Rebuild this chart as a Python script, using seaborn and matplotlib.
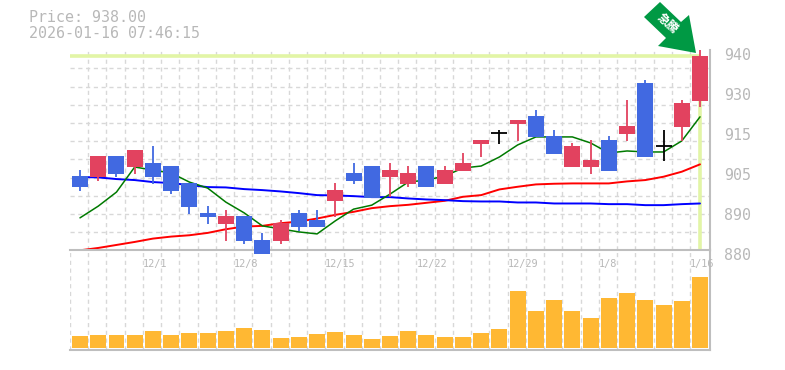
import numpy as np
import pandas as pd
import matplotlib
matplotlib.use("Agg")
import matplotlib.pyplot as plt
from matplotlib.patches import Polygon
from matplotlib.transforms import ScaledTranslation
import seaborn as sns

opens = [902.2,901.9,908.2,904.9,906.1,905.2,900.1,891.2,887.9,890.3,883.1,882.8,891.2,889.1,894.7,903.1,905.2,901.9,899.8,905.2,899.8,903.7,911.8,915.0,917.8,920.1,914.2,904.9,904.9,913.0,914.8,930.0,911.2,916.9,924.6]
closes = [899.0,908.2,902.8,910.0,901.9,897.7,892.9,890.0,890.3,882.8,878.9,888.2,887.0,887.0,898.0,900.7,895.6,904.0,903.1,898.9,904.0,906.1,913.0,915.0,919.0,913.9,908.8,911.2,907.0,903.7,917.2,907.9,911.2,924.0,938.1]
highs = [904.0,908.2,908.2,910.0,911.2,905.2,900.1,893.2,892.0,890.3,885.2,889.1,892.0,892.0,900.1,906.1,905.2,906.1,905.2,905.2,905.2,909.1,913.0,916.0,919.0,921.9,916.0,912.1,913.0,914.2,924.9,930.9,916.0,924.9,939.9]
lows = [897.7,900.7,901.9,902.8,899.8,896.8,890.9,887.9,882.8,881.9,878.9,881.9,885.8,887.0,890.0,899.8,895.6,895.9,898.9,898.9,899.8,903.7,907.9,911.8,912.7,913.9,908.8,904.9,902.8,903.7,912.7,907.9,906.7,912.7,922.8]
ma_short = [889.7,893.2,897.4,904.9,904.0,903.1,900.4,898.6,894.4,891.2,887.3,886.4,885.5,884.9,888.8,892.3,893.5,896.8,900.4,901.0,902.2,904.6,905.2,907.9,911.5,913.9,913.9,913.9,912.1,909.1,909.7,909.4,909.4,912.7,919.9]
ma_mid = [901.9,901.8,901.3,901.0,900.4,900.1,899.5,898.9,898.8,898.3,898.0,897.6,897.1,896.5,896.4,896.2,895.9,895.9,895.5,895.2,895.0,894.7,894.6,894.6,894.3,894.3,894.0,894.0,894.0,893.8,893.8,893.5,893.5,893.8,894.0]
ma_long = [880.0,880.7,881.6,882.5,883.5,884.1,884.5,885.2,886.3,887.1,887.3,888.1,888.6,889.5,890.6,891.5,892.6,893.2,893.6,894.2,894.8,896.0,896.5,898.2,899.0,899.7,899.9,900.0,900.0,900.0,900.6,901.0,902.0,903.5,905.7]
volume = [12,13,13,13,17,13,15,15,17,20,18,10,11,14,16,13,9,12,17,13,11,11,15,19,57,37,48,37,30,50,55,48,43,47,71]
date_labels = {4:"12/1",9:"12/8",14:"12/15",19:"12/22",24:"12/29",29:"1/8",34:"1/16"}
price_labels = ["880","890","905","915","930","940"]
last_price = 938.0
title_lines = ["Price: 938.00","2026-01-16 07:46:15"]
badge_text = "急騰"

RED="#e2425f"; BLUE="#4169e1"; GRID="#d8d8d8"; AXC="#bebebe"; TXT="#b8b8b8"; PALE="#e2f5a6"

sns.set_style("white")
plt.rcParams['font.family'] = ['DejaVu Sans Mono','Noto Sans CJK JP']
W,H=785,370
fig=plt.figure(figsize=(W/100,H/100),dpi=100,facecolor="white")
def rect(l,t,r,b): return [l/W,1-b/H,(r-l)/W,(b-t)/H]
axv=fig.add_axes(rect(70,250.3,710,350.3))
ax=fig.add_axes(rect(70,50.3,710,250.3))
ax.patch.set_alpha(0); ax.set_zorder(3); axv.set_zorder(1)

idx=np.arange(len(closes))
xlim=(-0.548,34.548)
edges=idx-0.55
dash=(0,(3,2.6))
df=pd.DataFrame(dict(i=idx,o=opens,c=closes,h=highs,l=lows,s=ma_short,m=ma_mid,g=ma_long,v=volume))

# Volume panel
sns.barplot(data=df,x="i",y="v",native_scale=True,color="#ffb833",saturation=1,width=0.877,ax=axv,zorder=3,legend=False,linewidth=0,edgecolor="none")
axv.set_xlim(*xlim); axv.set_ylim(-2.3,97.7)
axv.set_xticks(edges); axv.tick_params(length=0,labelbottom=False,labelleft=False)
axv.set_yticks([]); axv.set_xlabel(""); axv.set_ylabel("")
axv.grid(axis="x",color=GRID,lw=1,ls=dash,zorder=0); axv.set_axisbelow(True)
for s in ("top","left"): axv.spines[s].set_visible(False)
for s in ("bottom","right"):
    axv.spines[s].set_color(AXC); axv.spines[s].set_linewidth(1.5)

# Price panel
ymin,ymax=880,939.8
ax.set_xlim(*xlim); ax.set_ylim(ymin,ymax)
ax.set_xticks(edges)
ax.set_xticklabels([date_labels.get(i,"") for i in idx],ha="left",fontsize=7.4,color=TXT)
ax.tick_params(axis="x",length=0,pad=6)
step=(ymax-ymin)/11
ax.set_yticks([ymin+k*step for k in range(12)],minor=True)
ax.set_yticks(np.linspace(ymin,ymax,6))
ax.set_yticklabels(price_labels,fontsize=10.8,color=TXT)
ax.yaxis.tick_right()
ax.tick_params(axis="y",which="both",length=0,pad=10)
off=ScaledTranslation(0,-2.7/72,fig.dpi_scale_trans)
for lab in ax.get_yticklabels():
    lab.set_transform(lab.get_transform()+off)
ax.grid(axis="x",color=GRID,lw=1,ls=dash,zorder=0)
ax.grid(axis="y",which="minor",color=GRID,lw=1,ls=dash,zorder=0)
ax.grid(axis="y",which="major",visible=False)
ax.set_axisbelow(True)
for s in ("top","left"): ax.spines[s].set_visible(False)
for s in ("bottom","right"):
    ax.spines[s].set_color(AXC); ax.spines[s].set_linewidth(1.5)

# current-price marker
ax.hlines(last_price,xlim[0],idx[-1],color=PALE,lw=2.6,zorder=1)
ax.vlines(idx[-1],ymin+0.4,last_price,color=PALE,lw=2.6,zorder=1)

# Moving averages
for col,c,lw in (("g","#ff0000",1.4),("m","#0000ff",1.4),("s","#007a00",1.1)):
    sns.lineplot(data=df,x="i",y=col,color=c,lw=lw,ax=ax,zorder=2,errorbar=None)
ax.set_xlabel(""); ax.set_ylabel("")
ax.set_xlim(*xlim); ax.set_ylim(ymin,ymax)

# Candles
colors=[RED if c>o else BLUE if c<o else "black" for o,c in zip(opens,closes)]
ax.vlines(idx,lows,highs,colors=colors,lw=1.3,zorder=4,clip_on=False)
body=np.abs(np.array(closes)-np.array(opens))
ax.bar(idx,body,bottom=np.minimum(opens,closes),width=0.877,color=colors,lw=0,zorder=5,clip_on=False)
for i in idx[body==0]:
    ax.hlines(opens[i],i-0.44,i+0.44,color="black",lw=1.3,zorder=5)

# Header
fig.text(29/W,1-18/H,title_lines[0],fontsize=10.8,color=TXT,va="center",ha="left")
fig.text(29/W,1-33/H,title_lines[1],fontsize=10.8,color=TXT,va="center",ha="left")

# Badge arrow
pts=[(644,17),(660,2),(681,22),(689,15),(696,53),(658,46),(666,38)]
fig.add_artist(Polygon([(x/W,1-y/H) for x,y in pts],closed=True,transform=fig.transFigure,fc="#009944",ec="none",zorder=10))
fig.text(667/W,1-24/H,badge_text,fontsize=8.5,color="white",rotation=-42,rotation_mode="anchor",ha="center",va="center",fontweight="bold",zorder=11,family=['Noto Sans CJK JP','DejaVu Sans'])

fig.savefig("out.png",dpi=100,facecolor="white")
